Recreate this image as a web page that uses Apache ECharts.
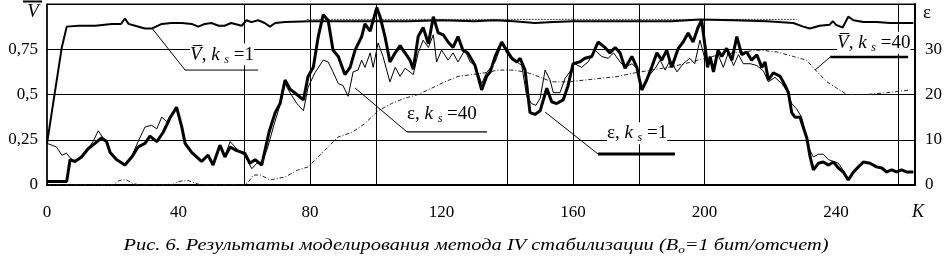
<!DOCTYPE html>
<html>
<head>
<meta charset="utf-8">
<script src="https://cdn.jsdelivr.net/npm/echarts@6.0.0/dist/echarts.min.js"></script>
<style>
  html, body { margin: 0; padding: 0; background: #fff; }
  #chart { width: 950px; height: 265px; }
</style>
</head>
<body>
<div id="chart"></div>
<script>
// K (отсчеты) vs V / ε
const eps1 = [[0,0.02],[6,0.02],[7,0.14],[8.5,0.13],[10.5,0.155],[12.5,0.2],[14.6,0.23],[16.6,0.26],[18.1,0.24],[19.2,0.18],[21.2,0.14],[23.7,0.11],[25.8,0.155],[27.7,0.21],[29.8,0.23],[31.3,0.27],[33.4,0.24],[35.3,0.29],[37.4,0.37],[39.4,0.43],[41,0.32],[42,0.23],[44,0.18],[47,0.13],[49,0.165],[50.5,0.11],[52.6,0.22],[54.1,0.155],[55.7,0.21],[57.7,0.19],[60.2,0.175],[61.7,0.12],[63.3,0.14],[65.3,0.11],[67.5,0.29],[69.4,0.4],[70.9,0.45],[72.4,0.58],[73.9,0.53],[76,0.5],[78,0.47],[79.4,0.6],[81,0.65],[82.5,0.82],[84,0.94],[85.5,0.91],[87,0.745],[88.6,0.71],[90.6,0.61],[92.2,0.65],[93.7,0.745],[95.7,0.82],[96.7,0.89],[98.3,0.85],[99.2,0.91],[100.3,0.98],[101.3,0.93],[102.8,0.82],[104.3,0.68],[105.9,0.73],[107.4,0.77],[108.9,0.73],[110.4,0.69],[111.4,0.64],[112.9,0.82],[114.4,0.87],[116,0.78],[117.5,0.93],[119,0.84],[120.5,0.83],[122,0.79],[123.5,0.76],[125,0.82],[126.5,0.745],[128,0.73],[130.2,0.66],[132.2,0.525],[133.7,0.6],[134.8,0.625],[136.3,0.71],[138.3,0.79],[139.8,0.745],[141.4,0.7],[142.9,0.68],[143.9,0.7],[145.4,0.635],[146.9,0.4],[148.4,0.39],[150,0.41],[152,0.535],[153.5,0.46],[155,0.45],[157,0.47],[158.5,0.55],[160,0.67],[162,0.68],[163.6,0.7],[165.7,0.71],[167.6,0.79],[169.7,0.76],[171.2,0.73],[172.8,0.76],[174.3,0.73],[175.8,0.645],[177.9,0.71],[179.4,0.65],[180.9,0.525],[182.4,0.58],[183.9,0.65],[185.5,0.73],[187,0.69],[188.5,0.745],[190,0.65],[192,0.755],[193.5,0.79],[195,0.84],[196.5,0.79],[198,0.87],[199.1,0.91],[200.2,0.76],[200.9,0.65],[201.7,0.71],[202.7,0.625],[204.1,0.745],[205.2,0.71],[206.7,0.755],[208.3,0.69],[209.8,0.82],[211.3,0.72],[212.8,0.735],[214.3,0.69],[215.9,0.72],[217.4,0.65],[218.4,0.68],[219.4,0.58],[220.9,0.62],[223,0.6],[224.5,0.55],[225.5,0.51],[226.5,0.4],[227.5,0.375],[229,0.375],[230,0.32],[231.1,0.26],[232.1,0.155],[233.1,0.083],[234.6,0.12],[236.1,0.127],[237.7,0.11],[239.2,0.127],[240.7,0.094],[242.2,0.072],[243.7,0.028],[245.3,0.072],[246.8,0.1],[248.3,0.127],[250.3,0.12],[252.3,0.1],[253.9,0.094],[255.4,0.072],[256.9,0.083],[258.4,0.072],[259.9,0.083],[261.4,0.072],[263.5,0.072]];

const eps40 = [[0,0.23],[1.5,0.22],[2.9,0.21],[4.5,0.165],[6,0.175],[7,0.15],[8.5,0.13],[10.5,0.155],[12.5,0.2],[14,0.24],[15.6,0.3],[17,0.26],[18.1,0.24],[19.2,0.18],[21.2,0.14],[23.7,0.11],[25.8,0.16],[27.7,0.24],[29.8,0.32],[31.8,0.33],[33.4,0.31],[34.9,0.375],[36.4,0.35],[37.9,0.39],[39.4,0.42],[41,0.32],[42,0.23],[44,0.18],[47,0.13],[49,0.165],[50.5,0.11],[52.6,0.22],[54.1,0.16],[55.7,0.24],[57.7,0.2],[60.2,0.16],[62.3,0.09],[63.8,0.12],[65.5,0.13],[67,0.2],[69,0.33],[71,0.45],[72.4,0.56],[73.9,0.51],[76,0.45],[78,0.41],[79.4,0.54],[81.5,0.62],[84,0.69],[85.5,0.68],[87,0.625],[88.6,0.56],[90,0.55],[91.6,0.49],[93.1,0.625],[94.6,0.635],[95.7,0.69],[96.7,0.65],[98.3,0.73],[99.2,0.65],[100.7,0.785],[102.2,0.71],[104.3,0.57],[105.9,0.65],[107.4,0.6],[108.9,0.645],[110.4,0.625],[111.4,0.61],[112.9,0.73],[114.4,0.8],[116,0.76],[117.5,0.83],[118.5,0.68],[120,0.745],[122,0.69],[123.5,0.73],[125,0.68],[127.1,0.745],[128.7,0.68],[130.2,0.66],[132.2,0.56],[133.7,0.62],[136.3,0.68],[138.3,0.78],[139.8,0.73],[141.4,0.69],[142.9,0.68],[144.4,0.66],[145.9,0.49],[147.4,0.45],[148.7,0.44],[150,0.48],[151.5,0.635],[153,0.58],[154,0.51],[156,0.51],[157.6,0.59],[159,0.625],[160.5,0.67],[162.6,0.65],[164.6,0.68],[166.7,0.745],[168.7,0.71],[170.7,0.7],[172.3,0.73],[174.3,0.68],[175.8,0.65],[177.9,0.67],[179.4,0.645],[180.9,0.53],[182.9,0.6],[185,0.645],[186.5,0.69],[188,0.635],[189.5,0.69],[191.6,0.625],[193.5,0.67],[195.5,0.7],[197,0.67],[198.6,0.8],[200.2,0.69],[201.7,0.67],[202.7,0.66],[204.1,0.72],[205.7,0.65],[207.2,0.73],[208.8,0.66],[210.3,0.72],[211.8,0.67],[213.9,0.67],[215.9,0.66],[217.9,0.63],[219.4,0.57],[221.4,0.595],[223.5,0.56],[225,0.52],[226.5,0.45],[228,0.42],[229.5,0.375],[231.1,0.26],[232.1,0.19],[233.1,0.155],[234.6,0.17],[236.1,0.17],[237.7,0.14],[239.2,0.13],[240.7,0.12],[242.2,0.08],[243.7,0.03],[245.3,0.07],[246.8,0.1],[248.3,0.127],[250.3,0.12],[252.3,0.1],[253.9,0.094],[255.4,0.072],[256.9,0.083],[258.4,0.072],[259.9,0.083],[261.4,0.072],[263.5,0.072]];

const vbar1 = [[0,0.23],[4.5,0.76],[6,0.875],[9.6,0.88],[14.7,0.88],[19.7,0.89],[22.5,0.89],[23.7,0.92],[24.8,0.89],[26.8,0.88],[29.8,0.865],[32,0.865],[34.9,0.89],[37.9,0.895],[41,0.895],[44,0.89],[46,0.875],[48,0.89],[50,0.895],[52.2,0.88],[54,0.88],[56,0.895],[59.2,0.88],[60.7,0.91],[62.2,0.9],[64.2,0.91],[66.2,0.895],[67.8,0.875],[69.4,0.895],[72.4,0.9],[80,0.905],[90,0.905],[100,0.905],[110,0.905],[120,0.91],[130,0.905],[136,0.91],[142,0.905],[148.4,0.895],[154,0.9],[160,0.905],[170,0.905],[180,0.905],[190,0.905],[198.6,0.915],[208.7,0.91],[218.9,0.905],[227,0.895],[230,0.875],[232,0.865],[235,0.88],[238,0.885],[239,0.905],[240,0.885],[242,0.87],[243.7,0.93],[245.3,0.91],[248.3,0.9],[252.3,0.9],[256.4,0.895],[260.4,0.895],[263.5,0.895]];

const vbarDots = [[79,0.915],[228,0.915]];

const vbar40 = [[0,0],[20,0],[22,0.025],[24,0.03],[26,0.01],[28,0],[38,0],[40,0.02],[43,0.025],[45,0.01],[47,0],[59.6,0],[61,0.01],[62.7,0.055],[65,0.055],[67.8,0.028],[72.4,0.044],[76.3,0.083],[79.4,0.1],[82.5,0.155],[85.5,0.21],[88.5,0.265],[92.7,0.29],[96.7,0.34],[100.7,0.41],[104.8,0.45],[108.9,0.48],[112.9,0.5],[117,0.535],[121,0.57],[125,0.6],[129.2,0.61],[133.2,0.62],[137.2,0.635],[141.4,0.635],[145.4,0.625],[149.4,0.6],[153.5,0.57],[158.5,0.57],[163.6,0.58],[168.7,0.59],[173.7,0.6],[178.9,0.62],[183.9,0.635],[188.9,0.65],[194,0.67],[200,0.7],[204.7,0.72],[210.8,0.735],[216.9,0.745],[222,0.735],[227,0.71],[231,0.69],[234,0.63],[237.2,0.57],[240.2,0.535],[243.3,0.5],[249.3,0.5],[255.4,0.51],[262.5,0.525]];

// vertical grid lines seen on the figure
const vGrid = [60, 80, 100, 140, 160, 180, 200, 259];

// callouts: leader [from, to], underline end, text
const callouts = [
  { text: '{i|V\u0305}, {i|k} {s|s} =1',  leader: [[42, 0.635], [31.9, 0.867]], under: [64.2, 0.635], at: [43.5, 0.66], w: 1 },
  { text: '{i|V\u0305}, {i|k} {s|s} =40', leader: [[238.2, 0.707], [233.6, 0.635]], under: [261.9, 0.707], at: [240.3, 0.725], w: 2.5 },
  { text: 'ε, {i|k} {s|s} =40',           leader: [[109.5, 0.293], [93.7, 0.536]], under: [133.8, 0.293], at: [109.5, 0.33], w: 1.2 },
  { text: 'ε, {i|k} {s|s} =1',            leader: [[167.6, 0.171], [151.5, 0.403]], under: [191, 0.171], at: [170.3, 0.225], w: 3 }
];

const serif = '"Liberation Serif", "DejaVu Serif", serif';
const chart = echarts.init(document.getElementById('chart'), null, { renderer: 'canvas' });

const leaderSeries = [];
callouts.forEach(c => {
  leaderSeries.push({
    type: 'line', data: [c.leader[1], c.leader[0]], symbol: 'none', silent: true, z: 5,
    lineStyle: { color: '#000', width: 1 }
  });
  leaderSeries.push({
    type: 'line', data: [c.leader[0], c.under], symbol: 'none', silent: true, z: 5,
    lineStyle: { color: '#000', width: c.w }
  });
});

chart.setOption({
  animation: false,
  backgroundColor: '#fff',
  grid: { left: 47, right: 35, top: 4, bottom: 80, outerBoundsMode: 'none',
    show: true, borderColor: '#000', borderWidth: 1 },
  xAxis: {
    type: 'value', min: 0, max: 264, interval: 40,
    axisLine: { show: true, lineStyle: { color: '#000', width: 2 } },
    axisTick: { show: false },
    splitLine: { show: false },
    axisLabel: { color: '#000', fontFamily: serif, fontSize: 17, margin: 19, showMaxLabel: false,
      formatter: v => (v > 240 ? '' : String(v)) }
  },
  yAxis: [{
    type: 'value', min: 0, max: 1, interval: 0.25,
    axisLine: { show: true, lineStyle: { color: '#000', width: 1.5 } },
    axisTick: { show: false },
    splitLine: { show: true, lineStyle: { color: '#000', width: 1 } },
    axisLabel: { color: '#000', fontFamily: serif, fontSize: 17, margin: 9,
      formatter: v => (v >= 1 ? '' : String(v).replace('.', ',')) }
  }, {
    type: 'value', min: 0, max: 40, interval: 10, position: 'right',
    axisLine: { show: true, lineStyle: { color: '#000', width: 2 } },
    axisTick: { show: false },
    splitLine: { show: false },
    axisLabel: { color: '#000', fontFamily: serif, fontSize: 17, margin: 10,
      formatter: v => (v >= 40 ? '' : String(v)) }
  }],
  series: [
    { type: 'line', data: vbar40, symbol: 'none', silent: true, z: 2,
      lineStyle: { color: '#222', width: 1, type: [4, 2, 1, 2] } },
    { type: 'line', data: vbarDots, symbol: 'none', silent: true, z: 2,
      lineStyle: { color: '#444', width: 1, type: [2, 1] } },
    { type: 'line', data: vbar1, symbol: 'none', silent: true, z: 3,
      lineStyle: { color: '#000', width: 2 } },
    { type: 'line', data: eps40, symbol: 'none', silent: true, z: 3,
      lineStyle: { color: '#000', width: 1 } },
    { type: 'line', data: eps1, symbol: 'none', silent: true, z: 4,
      lineStyle: { color: '#000', width: 3 } },
    { type: 'line', data: vGrid.map(k => [k, 0]), symbol: 'none', silent: true, z: 1,
      lineStyle: { width: 0 },
      markLine: { silent: true, symbol: 'none', label: { show: false },
        lineStyle: { color: '#000', width: 1, type: 'solid' },
        data: vGrid.map(k => ({ xAxis: k })) } }
  ].concat(leaderSeries)
});

const rich = {
  i: { fontFamily: serif, fontStyle: 'italic', fontSize: 19, color: '#000' },
  s: { fontFamily: serif, fontStyle: 'italic', fontSize: 12, color: '#000', padding: [10, 0, 0, 0] }
};

const graphics = callouts.map(c => {
  const p = chart.convertToPixel({ gridIndex: 0 }, c.at);
  return {
    type: 'text', x: p[0], y: p[1], z: 10, silent: true,
    style: { text: c.text, fill: '#000', font: '19px ' + serif, rich: rich,
      textAlign: 'left', textVerticalAlign: 'bottom', backgroundColor: '#fff' }
  };
});

graphics.push(
  { type: 'text', x: 33, y: 12, silent: true,
    style: { text: 'V', font: 'italic 19px ' + serif, fill: '#000', textAlign: 'center', textVerticalAlign: 'middle' } },
  { type: 'line', silent: true, shape: { x1: 23, y1: 1.5, x2: 42, y2: 1.5 }, style: { stroke: '#000', lineWidth: 2 } },
  { type: 'text', x: 927, y: 13, silent: true,
    style: { text: 'ε', font: '19px ' + serif, fill: '#000', textAlign: 'center', textVerticalAlign: 'middle' } },
  { type: 'text', x: 918, y: 212, silent: true,
    style: { text: 'K', font: 'italic 18px ' + serif, fill: '#000', textAlign: 'center', textVerticalAlign: 'middle' } },
  { type: 'text', x: 476, y: 246, silent: true, scaleX: 1.2, originX: 0,
    style: { text: 'Рис. 6. Результаты моделирования метода IV стабилизации (В{b|о}=1 бит/отсчет)',
      font: 'italic 17px ' + serif, fill: '#000', textAlign: 'center', textVerticalAlign: 'middle',
      rich: { b: { font: 'italic 11px ' + serif, fill: '#000', padding: [9, 0, 0, 0] } } } }
);

chart.setOption({ graphic: graphics });
</script>
</body>
</html>
